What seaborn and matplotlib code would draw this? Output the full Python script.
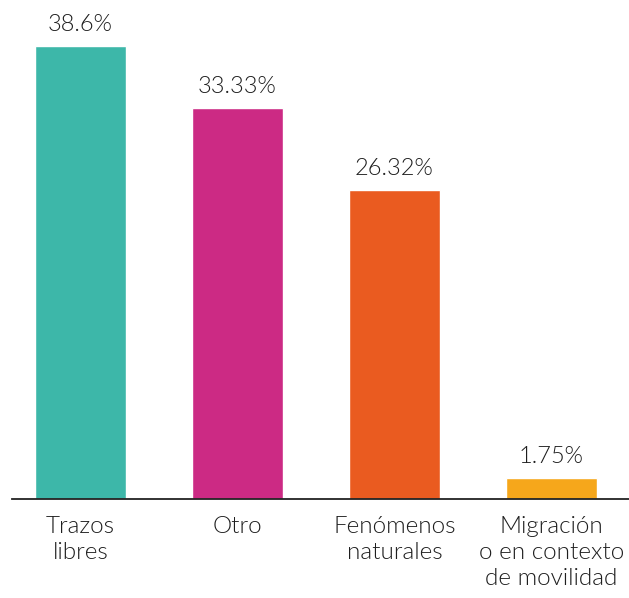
import matplotlib
matplotlib.use("Agg")
import matplotlib.pyplot as plt
import seaborn as sns
import pandas as pd

categories = ["Trazos\nlibres", "Otro", "Fenómenos\nnaturales", "Migración\no en contexto\nde movilidad"]
values = [38.6, 33.33, 26.32, 1.75]
value_labels = ["38.6%", "33.33%", "26.32%", "1.75%"]
colors = ["#3DB7A9", "#CC2A84", "#EA5B20", "#F6A71B"]

sns.set_theme(style="white")
plt.rcParams["font.family"] = ["Lato", "DejaVu Sans"]

df = pd.DataFrame({"categoria": categories, "valor": values})

fig = plt.figure(figsize=(6.29, 5.98), dpi=100)
ax = fig.add_axes([12 / 629, 99 / 598, 617 / 629, 499 / 598])

sns.barplot(data=df, x="categoria", y="valor", hue="categoria",
            palette=colors, legend=False, width=0.58, ax=ax,
            saturation=1)

for cont, lab in zip(ax.containers, value_labels):
    ax.bar_label(cont, labels=[lab], padding=8, fontsize=17,
                 color="#1e1e1e", fontweight=300)

ax.set_xlim(-0.436, 3.494)
ax.set_ylim(0, 42.5)
ax.set_xlabel("")
ax.set_ylabel("")
ax.set_yticks([])
for s in ["top", "right", "left"]:
    ax.spines[s].set_visible(False)
ax.spines["bottom"].set_color("#222222")
ax.spines["bottom"].set_linewidth(1.3)
ax.tick_params(axis="x", length=0, pad=12)
for t in ax.get_xticklabels():
    t.set_fontsize(17.5)
    t.set_color("#1e1e1e")
    t.set_fontweight(300)
    t.set_linespacing(1.3)
    t.set_verticalalignment("top")

fig.savefig("out.png", dpi=100)
